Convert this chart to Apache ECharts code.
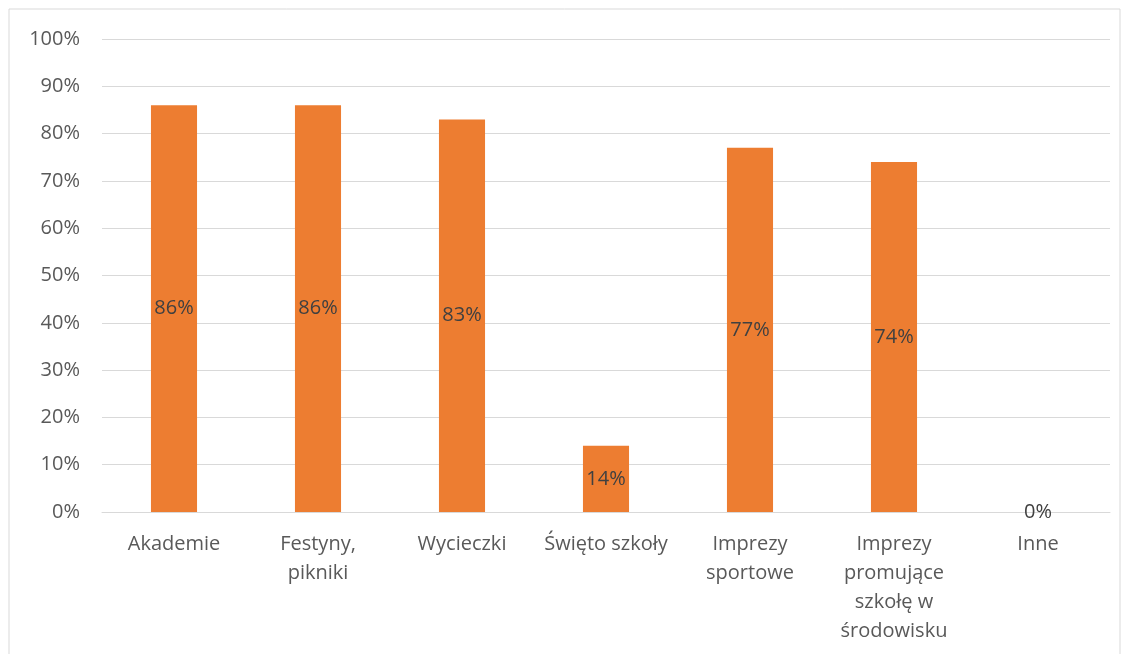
<!DOCTYPE html>
<html>
<head>
<meta charset="utf-8">
<script src="https://cdn.jsdelivr.net/npm/echarts@6/dist/echarts.min.js"></script>
<style>
html,body{margin:0;padding:0;background:#fff;}
#chart{width:1125px;height:654px;}
</style>
</head>
<body>
<div id="chart"></div>
<script>
const categories = [
  "Akademie",
  "Festyny,\npikniki",
  "Wycieczki",
  "Święto szkoły",
  "Imprezy\nsportowe",
  "Imprezy\npromujące\nszkołę w\nśrodowisku",
  "Inne"
];
const values = [86, 86, 83, 14, 77, 74, 0];
const yTicks = [0, 10, 20, 30, 40, 50, 60, 70, 80, 90, 100];

const FONT = '"Open Sans", Lato, sans-serif';
const chart = echarts.init(document.getElementById('chart'));
chart.setOption({
  animation: false,
  textStyle: { fontFamily: FONT },
  graphic: [{
    type: 'rect',
    shape: { x: 9, y: 9, width: 1111, height: 700 },
    style: { fill: 'none', stroke: '#d9d9d9', lineWidth: 1 },
    silent: true
  }],
  grid: { left: 102, right: 15, top: 39, bottom: 142, containLabel: false },
  xAxis: {
    type: 'category',
    data: categories,
    axisLine: { show: true, lineStyle: { color: '#d9d9d9', width: 1 } },
    axisTick: { show: false },
    axisLabel: {
      color: '#595959', fontSize: 20, margin: 18, lineHeight: 29, interval: 0,
      fontFamily: FONT
    }
  },
  yAxis: {
    type: 'value',
    min: yTicks[0],
    max: yTicks[yTicks.length - 1],
    interval: 10,
    axisLine: { show: false },
    axisTick: { show: false },
    splitLine: { lineStyle: { color: '#d9d9d9', width: 1 } },
    axisLabel: {
      color: '#595959', fontSize: 20, margin: 22,
      formatter: v => v + '%',
      fontFamily: FONT
    }
  },
  series: [{
    type: 'bar',
    data: values,
    barWidth: '32%',
    itemStyle: { color: '#ed7d31' },
    label: {
      show: true,
      position: 'inside',
      color: '#404040',
      fontSize: 20,
      formatter: p => p.value + '%',
      fontFamily: FONT
    }
  }]
});
</script>
</body>
</html>
